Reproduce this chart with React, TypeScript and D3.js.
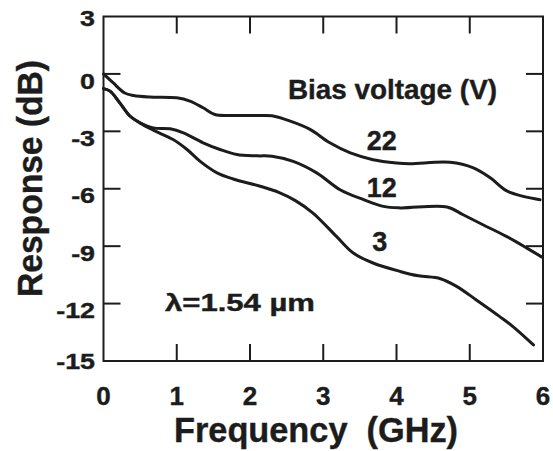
import React from "react";
import * as d3 from "d3";

const xTicks = [0, 1, 2, 3, 4, 5, 6];
const yTicks = [3, 0, -3, -6, -9, -12, -15];

const series22: [number, number][] = [
  [0, 0], [0.13, -0.46], [0.29, -1.0], [0.41, -1.13], [0.63, -1.21], [1.0, -1.25],
  [1.18, -1.42], [1.36, -1.77], [1.52, -2.12], [1.77, -2.17], [2.14, -2.17],
  [2.3, -2.19], [2.55, -2.47], [2.82, -2.9], [3.09, -3.6], [3.37, -4.13],
  [3.68, -4.48], [4.0, -4.65], [4.18, -4.69], [4.73, -4.62], [5.05, -4.91],
  [5.28, -5.43], [5.5, -6.1], [5.73, -6.4], [5.96, -6.57],
];

const series12: [number, number][] = [
  [0, -0.77], [0.09, -0.9], [0.22, -1.5], [0.36, -2.2], [0.5, -2.55], [0.68, -2.82],
  [0.91, -2.87], [1.09, -3.08], [1.36, -3.6], [1.59, -3.95], [1.82, -4.21],
  [2.1, -4.28], [2.3, -4.3], [2.59, -4.57], [2.91, -5.17], [3.23, -6.05],
  [3.55, -6.57], [3.82, -6.92], [4.05, -7.0], [4.69, -6.95], [4.91, -7.36],
  [5.18, -7.88], [5.5, -8.49], [5.78, -9.1], [5.98, -9.56],
];

const series3: [number, number][] = [
  [0, -0.77], [0.09, -0.9], [0.22, -1.5], [0.36, -2.2], [0.5, -2.57], [0.68, -2.94],
  [0.95, -3.43], [1.14, -3.95], [1.32, -4.57], [1.55, -5.17], [1.77, -5.49],
  [2.14, -5.87], [2.4, -6.2], [2.62, -6.62], [2.86, -7.27], [3.18, -8.49],
  [3.41, -9.36], [3.68, -9.88], [4.05, -10.32], [4.3, -10.55], [4.6, -10.7],
  [4.82, -11.1], [5.09, -11.81], [5.41, -12.68], [5.59, -13.2], [5.87, -14.16],
];

const seriesLabels = ["22", "12", "3"];
const seriesLabelAt: [number, number][] = [[3.8, -4.0], [3.8, -6.45], [3.77, -9.25]];

const FONT = "'Liberation Sans', Arial, Helvetica, sans-serif";
const INK = "#1c1c1c";

export default function App() {
  const W = 553, H = 451;
  const left = 103.5, right = 543, top = 16.5, bottom = 361;
  const x = d3.scaleLinear().domain([0, 6]).range([left, right]);
  const y = d3.scaleLinear().domain([-15, 3]).range([bottom, top]);
  const line = d3
    .line<[number, number]>()
    .x((d) => x(d[0]))
    .y((d) => y(d[1]))
    .curve(d3.curveCatmullRom.alpha(0.5));
  const tickLen = 17;
  const allSeries = [series22, series12, series3];
  const textStroke = { stroke: INK, strokeWidth: 0.4 };

  return (
    <svg
      width={W}
      height={H}
      style={{ position: "absolute", left: 0, top: 0, background: "#fff" }}
      fontFamily={FONT}
      fontWeight="bold"
    >
      <rect x={0} y={0} width={W} height={H} fill="#fff" />
      <rect x={left} y={top} width={right - left} height={bottom - top} fill="none" stroke={INK} strokeWidth={2} />
      {xTicks.slice(1, -1).map((t) => (
        <g key={"xt" + t}>
          <line x1={x(t)} x2={x(t)} y1={bottom} y2={bottom - tickLen} stroke={INK} strokeWidth={2} />
          <line x1={x(t)} x2={x(t)} y1={top} y2={top + tickLen} stroke={INK} strokeWidth={2} />
        </g>
      ))}
      {yTicks.slice(1, -1).map((t) => (
        <g key={"yt" + t}>
          <line x1={left} x2={left + tickLen} y1={y(t)} y2={y(t)} stroke={INK} strokeWidth={2} />
          <line x1={right} x2={right - tickLen} y1={y(t)} y2={y(t)} stroke={INK} strokeWidth={2} />
        </g>
      ))}
      {xTicks.map((t) => (
        <text key={"xl" + t} x={x(t)} y={405} textAnchor="middle" fontSize={26} fill={INK} {...textStroke}>
          {t}
        </text>
      ))}
      {yTicks.map((t, i) => (
        <text
          key={"yl" + t}
          transform={`translate(95, ${y(t) + (i === 0 ? 2 : i === yTicks.length - 1 ? 0 : 7)}) scale(1.22, 1)`}
          textAnchor="end"
          dominantBaseline="central"
          fontSize={22}
          fill={INK}
          {...textStroke}
        >
          {t}
        </text>
      ))}
      {allSeries.map((s, i) => (
        <path key={"s" + i} d={line(s) || ""} fill="none" stroke={INK} strokeWidth={3} strokeLinejoin="round" strokeLinecap="round" />
      ))}
      {seriesLabels.map((l, i) => (
        <text key={"sl" + l} x={x(seriesLabelAt[i][0])} y={y(seriesLabelAt[i][1])} textAnchor="middle" fontSize={27} fill={INK} {...textStroke}>
          {l}
        </text>
      ))}
      <text x={288} y={99} fontSize={27} fill={INK} textLength={209} lengthAdjust="spacingAndGlyphs" {...textStroke}>
        Bias voltage (V)
      </text>
      <text x={165} y={311} fontSize={24} fill={INK} textLength={150} lengthAdjust="spacingAndGlyphs" {...textStroke}>
        λ=1.54 µm
      </text>
      <text x={316} y={442} textAnchor="middle" fontSize={35} fill={INK} textLength={284} lengthAdjust="spacingAndGlyphs" style={{ whiteSpace: "pre" }} {...textStroke}>
        {"Frequency  (GHz)"}
      </text>
      <text
        transform={`translate(42, 178.5) rotate(-90)`}
        textAnchor="middle"
        fontSize={35}
        fill={INK}
        textLength={237}
        lengthAdjust="spacingAndGlyphs"
        {...textStroke}
      >
        Response (dB)
      </text>
    </svg>
  );
}
